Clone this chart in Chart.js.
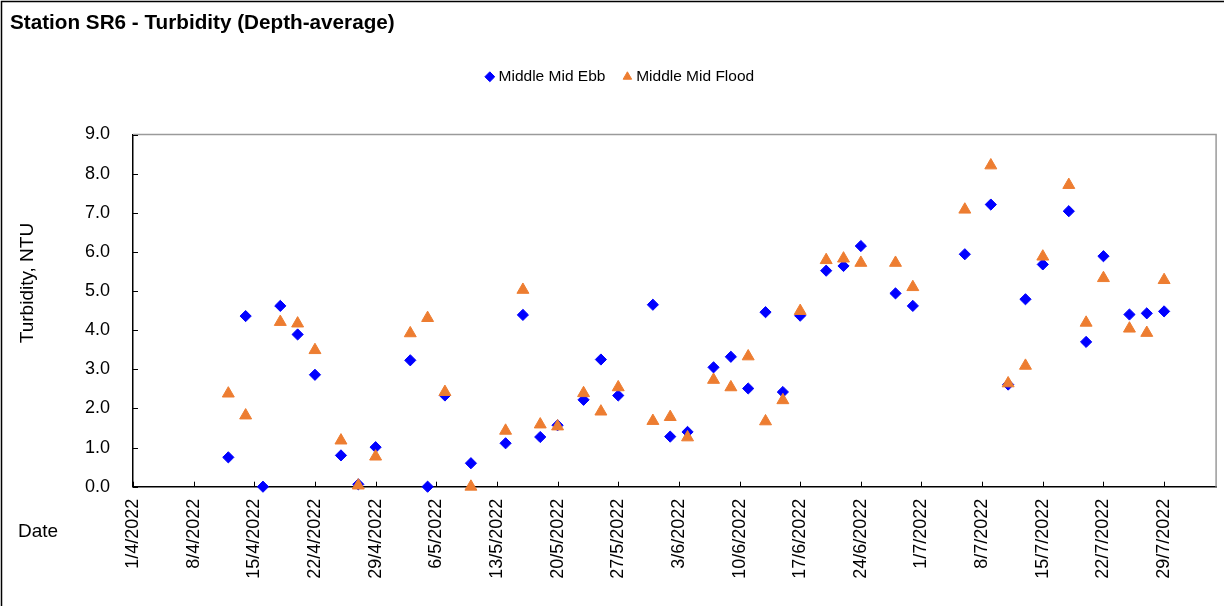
<!DOCTYPE html>
<html>
<head>
<meta charset="utf-8">
<title>Station SR6 - Turbidity (Depth-average)</title>
<script src="https://cdn.jsdelivr.net/npm/chart.js@4.4.0/dist/chart.umd.min.js"></script>
<style>
  body { margin: 0; background: #fff; }
  #wrap { position: relative; width: 1224px; height: 606px; }
</style>
</head>
<body>
<div id="wrap"><canvas id="turbChart" width="1224" height="606"></canvas></div>
<script>
// sampling dates (d/m/yyyy)
const sampleDates = [
  '12/4/2022', '14/4/2022', '16/4/2022', '18/4/2022', '20/4/2022', '22/4/2022', '25/4/2022',
  '27/4/2022', '29/4/2022', '3/5/2022', '5/5/2022', '7/5/2022', '10/5/2022', '14/5/2022',
  '16/5/2022', '18/5/2022', '20/5/2022', '23/5/2022', '25/5/2022', '27/5/2022', '31/5/2022',
  '2/6/2022', '4/6/2022', '7/6/2022', '9/6/2022', '11/6/2022', '13/6/2022', '15/6/2022',
  '17/6/2022', '20/6/2022', '22/6/2022', '24/6/2022', '28/6/2022', '30/6/2022', '6/7/2022',
  '9/7/2022', '11/7/2022', '13/7/2022', '15/7/2022', '18/7/2022', '20/7/2022', '22/7/2022',
  '25/7/2022', '27/7/2022', '29/7/2022'
];

// turbidity, NTU
const midEbb = [
  0.75, 4.36, 0.00, 4.62, 3.89, 2.86, 0.80, 0.06, 1.01, 3.23, 0.00, 2.33, 0.60, 1.11, 4.39,
  1.27, 1.57, 2.22, 3.25, 2.33, 4.65, 1.28, 1.40, 3.05, 3.32, 2.51, 4.46, 2.42, 4.37, 5.52,
  5.64, 6.15, 4.94, 4.62, 5.94, 7.21, 2.61, 4.79, 5.68, 7.04, 3.70, 5.89, 4.40, 4.43, 4.48
];
const midFlood = [
  2.38, 1.82, null, 4.21, 4.17, 3.49, 1.18, 0.03, 0.77, 3.92, 4.31, 2.42, 0.00, 1.43, 5.03,
  1.59, 1.54, 2.39, 1.92, 2.54, 1.68, 1.78, 1.26, 2.73, 2.54, 3.33, 1.67, 2.21, 4.49, 5.79,
  5.83, 5.72, 5.72, 5.10, 7.08, 8.21, 2.64, 3.09, 5.88, 7.71, 4.19, 5.33, 4.04, 3.93, 5.28
];

// x axis
const axisStart = '1/4/2022';
const axisEnd = '4/8/2022';
const weekTicks = [
  '1/4/2022', '8/4/2022', '15/4/2022', '22/4/2022', '29/4/2022', '6/5/2022', '13/5/2022',
  '20/5/2022', '27/5/2022', '3/6/2022', '10/6/2022', '17/6/2022', '24/6/2022', '1/7/2022',
  '8/7/2022', '15/7/2022', '22/7/2022', '29/7/2022'
];

const FONT = "'Liberation Sans', Arial, sans-serif";

// days since axisStart
function toDay(s) {
    const [d, m, y] = s.split('/').map(Number);
    const [d0, m0, y0] = axisStart.split('/').map(Number);
    return Math.round((Date.UTC(y, m - 1, d) - Date.UTC(y0, m0 - 1, d0)) / 86400000);
}

function points(values) {
    return sampleDates
        .map((s, i) => ({ x: toDay(s), y: values[i] }))
        .filter(p => p.y !== null);
}

// frame, inward tick marks and the free-standing labels
const chartDecor = {
    id: 'chartDecor',
    beforeDraw(chart) {
        const ctx = chart.ctx;
        ctx.save();
        ctx.strokeStyle = '#000';
        ctx.lineWidth = 1.5;
        ctx.beginPath();
        ctx.moveTo(1.5, chart.height);
        ctx.lineTo(1.5, 1.5);
        ctx.lineTo(chart.width, 1.5);
        ctx.stroke();
        ctx.restore();
    },
    beforeDatasetsDraw(chart) {
        const { ctx, chartArea: a, scales: { x, y } } = chart;
        ctx.save();
        ctx.strokeStyle = '#9a9a9a';
        ctx.lineWidth = 1.5;
        ctx.beginPath();
        ctx.moveTo(a.left, a.top);
        ctx.lineTo(a.right, a.top);
        ctx.lineTo(a.right, a.bottom);
        ctx.stroke();

        ctx.strokeStyle = '#000';
        ctx.lineWidth = 1;
        ctx.beginPath();
        x.ticks.forEach(t => {
            const px = Math.round(x.getPixelForValue(t.value)) + 0.5;
            ctx.moveTo(px, a.bottom);
            ctx.lineTo(px, a.bottom - 5);
        });
        y.ticks.forEach(t => {
            const py = Math.round(y.getPixelForValue(t.value)) + 0.5;
            ctx.moveTo(a.left, py);
            ctx.lineTo(a.left + 5, py);
        });
        ctx.stroke();
        ctx.restore();
    },
    afterDraw(chart) {
        const ctx = chart.ctx;
        ctx.save();
        ctx.fillStyle = '#000';
        ctx.textBaseline = 'middle';
        ctx.font = 'bold 20.7px ' + FONT;
        ctx.fillText('Station SR6 - Turbidity (Depth-average)', 10, 23);
        ctx.font = '19px ' + FONT;
        ctx.fillText('Date', 18, 532);
        ctx.translate(28, 283);
        ctx.rotate(-Math.PI / 2);
        ctx.textAlign = 'center';
        ctx.fillText('Turbidity, NTU', 0, 0);
        ctx.restore();
    }
};

new Chart(document.getElementById('turbChart'), {
    type: 'scatter',
    data: {
        datasets: [{
            label: 'Middle Mid Ebb',
            data: points(midEbb),
            pointStyle: 'rectRot',
            pointRadius: 5.6,
            pointHoverRadius: 5.6,
            backgroundColor: '#0000FF',
            borderColor: '#0000FF',
            borderWidth: 1,
            order: 1,
            clip: false
        }, {
            label: 'Middle Mid Flood',
            data: points(midFlood),
            pointStyle: 'triangle',
            pointRadius: 6.9,
            pointHoverRadius: 6.9,
            backgroundColor: '#ED7D31',
            borderColor: '#ED7D31',
            borderWidth: 1,
            order: 0,
            clip: false
        }]
    },
    options: {
        responsive: false,
        animation: false,
        layout: { padding: { left: 26, right: 7, top: 48, bottom: 0 } },
        plugins: {
            title: { display: false },
            // empty spacer between legend and plot
            subtitle: { display: true, text: '', weight: 0, padding: 0, font: { size: 10, lineHeight: '40px' } },
            legend: {
                labels: {
                    usePointStyle: true,
                    boxWidth: 2,
                    boxHeight: 7,
                    padding: 21,
                    color: '#000',
                    font: { size: 15.5, family: FONT },
                    sort: (a, b) => a.datasetIndex - b.datasetIndex
                }
            },
            tooltip: { enabled: false }
        },
        scales: {
            x: {
                type: 'linear',
                min: 0,
                max: toDay(axisEnd),
                afterBuildTicks: s => { s.ticks = weekTicks.map(d => ({ value: toDay(d) })); },
                afterFit: s => { s.height = 119.3; },
                grid: { display: false, drawTicks: false },
                border: { color: '#000', width: 1.5 },
                ticks: {
                    autoSkip: false,
                    maxRotation: 90,
                    minRotation: 90,
                    padding: 12,
                    color: '#000',
                    font: { size: 18, family: FONT },
                    callback: (v, i) => weekTicks[i]
                }
            },
            y: {
                min: 0,
                max: 9,
                afterFit: s => { s.width = 133 - 26; },
                grid: { display: false, drawTicks: false },
                border: { color: '#000', width: 1.5 },
                ticks: {
                    stepSize: 1,
                    padding: 23,
                    color: '#000',
                    font: { size: 18, family: FONT },
                    callback: v => v.toFixed(1)
                }
            }
        }
    },
    plugins: [chartDecor]
});
</script>
</body>
</html>
